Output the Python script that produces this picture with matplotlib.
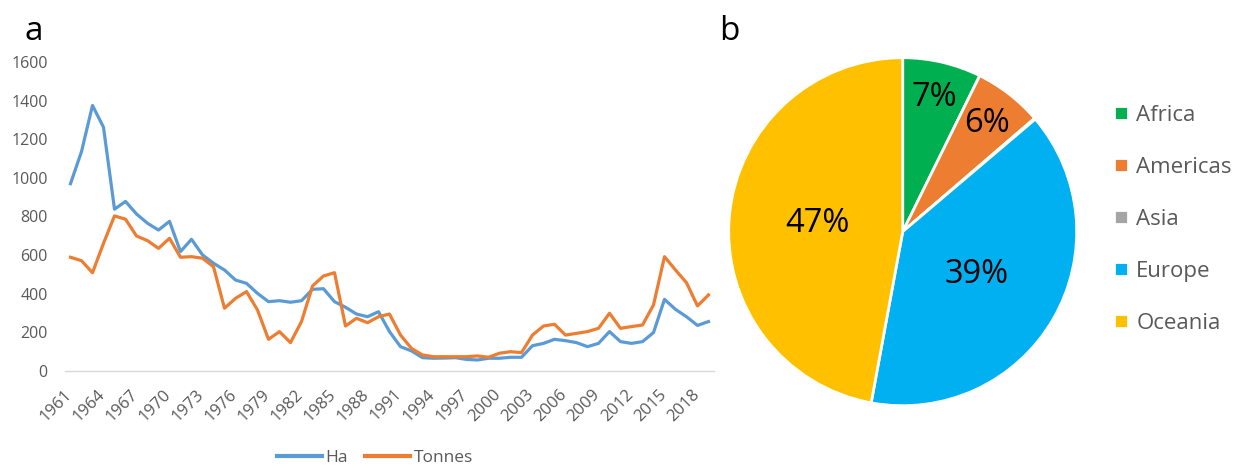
import matplotlib
matplotlib.use("Agg")
import matplotlib.pyplot as plt
import matplotlib.transforms as mtransforms
import numpy as np

years = list(range(1961, 2020))
ha = [970, 1136, 1375, 1262, 838, 878, 813, 765, 730, 775, 618, 682, 601, 558, 523, 471, 454, 402, 359,
      364, 356, 364, 423, 426, 359, 330, 295, 281, 307, 204, 126, 104, 69, 66, 67, 69, 60,
      57, 66, 66, 71, 71, 131, 143, 164, 157, 147, 126, 143, 204, 152, 143, 152, 199, 371, 319, 281, 236, 256]
tonnes = [589, 571, 509, 661, 803, 786, 699, 675, 635, 687, 589, 592, 584, 540, 325, 376, 411, 316, 164,
          204, 147, 256, 440, 492, 509, 233, 273, 250, 281, 295, 186, 117, 83, 74, 74, 74, 74,
          78, 71, 92, 100, 95, 186, 233, 242, 186, 195, 204, 221, 299, 221, 230, 238, 342, 592, 523, 457, 337, 394]
yticks = [0, 200, 400, 600, 800, 1000, 1200, 1400, 1600]

regions = ["Africa", "Americas", "Asia", "Europe", "Oceania"]
shares = [7.3, 6.4, 0.1, 39.1, 47.1]
pie_colors = ["#00B050", "#ED7D31", "#A5A5A5", "#00B0F0", "#FFC000"]

plt.rcParams['font.family'] = ['Open Sans', 'DejaVu Sans']
grey = "#595959"

W, H = 1245, 468
fig = plt.figure(figsize=(W / 100, H / 100), dpi=100)

# ---- panel a: line chart
ax = fig.add_axes([65 / W, 1 - 371 / H, (714 - 65) / W, (371 - 62) / H])
x = np.arange(len(years))
ax.plot(x, ha, color="#5B9BD5", lw=2.3, label="Ha", solid_joinstyle="round")
ax.plot(x, tonnes, color="#ED7D31", lw=2.3, label="Tonnes", solid_joinstyle="round")
ax.set_xlim(-0.5, len(years) - 0.5)
ax.set_ylim(0, 1600)
ax.set_yticks(yticks)
ax.set_yticklabels([str(v) for v in yticks], color=grey, fontsize=11.5)
ax.tick_params(axis="y", length=0, pad=12.5)
tick_pos = x[::3]
ax.set_xticks(tick_pos)
ax.set_xticklabels([str(years[i]) for i in tick_pos], color=grey, fontsize=12,
                   rotation=45, ha="right", va="top")
ax.tick_params(axis="x", length=0, pad=11)
offset = mtransforms.ScaledTranslation(5 / 100, 0, fig.dpi_scale_trans)
for lab in ax.get_xticklabels():
    lab.set_transform(lab.get_transform() + offset)
for s in ["top", "right", "left"]:
    ax.spines[s].set_visible(False)
ax.spines["bottom"].set_color("#D9D9D9")
ax.spines["bottom"].set_linewidth(1)
leg = ax.legend(loc="center", bbox_to_anchor=(375 / W, 1 - 458 / H), bbox_transform=fig.transFigure,
                ncol=2, frameon=False, fontsize=12.5, handlelength=2.6, handletextpad=0.2,
                columnspacing=1.0, labelcolor=grey)
for l in leg.get_lines():
    l.set_linewidth(3)

fig.text(24 / W, 1 - 40 / H, "a", fontsize=24, color="black", ha="left", va="baseline")
fig.text(719 / W, 1 - 40 / H, "b", fontsize=24, color="black", ha="left", va="baseline")

# ---- panel b: pie chart
cx, cy, r = 902.7, 231.7, 174
axp = fig.add_axes([(cx - r) / W, 1 - (cy + r) / H, 2 * r / W, 2 * r / H])
wedges, _ = axp.pie(shares, colors=pie_colors, startangle=90, counterclock=False,
                    wedgeprops=dict(edgecolor="white", linewidth=2))
axp.set_xlim(-1, 1)
axp.set_ylim(-1, 1)
axp.set_aspect("equal")
for w, v in zip(wedges, shares):
    if v < 1:
        continue
    th = np.deg2rad((w.theta1 + w.theta2) / 2)
    rr = 0.79 if v < 10 else 0.49
    axp.text(rr * np.cos(th), rr * np.sin(th), f"{v:.0f}%", ha="center", va="center",
             fontsize=23.5, color="black")

fig.legend(wedges, regions, loc="center left", bbox_to_anchor=(1094 / W, 1 - 219.5 / H),
           frameon=False, fontsize=16, labelcolor=grey, handlelength=0.65, handleheight=0.6,
           handletextpad=0.35, labelspacing=1.4)

fig.savefig("out.png", dpi=100)
